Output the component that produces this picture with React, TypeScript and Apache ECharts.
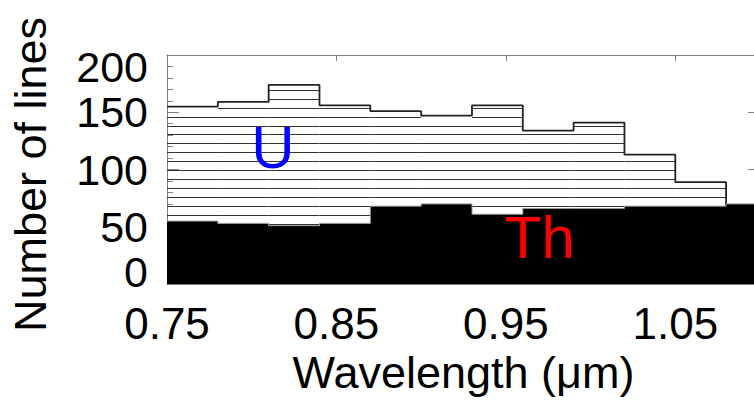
import React, { useEffect, useRef } from "react";
import * as echarts from "echarts";

// Histogram bins (left edges, µm) – bin width 0.03 µm
const binStarts = [0.75, 0.78, 0.81, 0.84, 0.87, 0.9, 0.93, 0.96, 0.99, 1.02, 1.05, 1.08];
const binWidth = 0.03;
// Uranium line counts (11 bins)
const uCounts = [155, 159, 174, 156, 151, 147, 156, 134, 141, 113, 89];
// Thorium line counts (12 bins)
const thCounts = [55, 53, 51, 53, 68, 70, 61, 66, 66, 68, 68, 70];
// Axis ticks
const xTicks = [0.75, 0.85, 0.95, 1.05];
const yTicks = [0, 50, 100, 150, 200];
// Text labels inside the plot
const labelU = { text: "U", x: 0.8125, y: 119, color: "#0000ff" };
const labelTh = { text: "Th", x: 0.97, y: 40.5, color: "#ff0000" };

const HATCH_START = 5;
const HATCH_STEP = 7.85;
const FONT = "'Liberation Sans', Arial, Helvetica, sans-serif";
const AXIS_COLOR = "#808080";

export default function App() {
  const ref = useRef<HTMLDivElement>(null);
  useEffect(() => {
    if (!ref.current) return;
    const chart = echarts.init(ref.current, null, { renderer: "svg" });

    const uBins = uCounts.map((v, i) => [binStarts[i], binStarts[i] + binWidth, v]);
    const uLine: number[][] = uCounts.map((v, i) => [binStarts[i], v]);
    const uEnd = binStarts[uCounts.length - 1] + binWidth;
    uLine.push([uEnd, uCounts[uCounts.length - 1]]);
    uLine.push([uEnd, 0]);
    const thLine: number[][] = thCounts.map((v, i) => [binStarts[i], v]);
    thLine.push([binStarts[thCounts.length - 1] + binWidth, thCounts[thCounts.length - 1]]);

    const xAxisBase = {
      type: "value",
      min: 0.75,
      max: 1.1,
      axisLine: { show: true, onZero: false, lineStyle: { color: AXIS_COLOR, width: 1 } },
      axisTick: { show: true, inside: true, length: 6, customValues: xTicks, lineStyle: { color: AXIS_COLOR } },
      splitLine: { show: false },
    };
    const yAxisBase = {
      type: "value",
      min: 0,
      max: 200,
      interval: 50,
      axisLine: { show: true, onZero: false, lineStyle: { color: AXIS_COLOR, width: 1 } },
      axisTick: { show: true, inside: true, length: 12, lineStyle: { color: AXIS_COLOR } },
      minorTick: { show: true, splitNumber: 5, length: 6, lineStyle: { color: AXIS_COLOR } },
      splitLine: { show: false },
    };

    chart.setOption({
      animation: false,
      grid: { left: 167, right: 0, top: 55, bottom: 113 },
      xAxis: [
        {
          ...xAxisBase,
          position: "bottom",
          axisLabel: {
            customValues: xTicks,
            formatter: (v: number) => v.toFixed(2),
            fontSize: 44,
            lineHeight: 44,
            margin: 17,
            color: "#000",
            fontFamily: FONT,
          },
          name: "Wavelength (μm)",
          nameLocation: "middle",
          nameGap: 59,
          nameTextStyle: { fontSize: 45, color: "#000", fontFamily: FONT },
        },
        { ...xAxisBase, position: "top", axisLabel: { show: false } },
      ],
      yAxis: [
        {
          ...yAxisBase,
          position: "left",
          axisLabel: {
            customValues: yTicks,
            fontSize: 43,
            lineHeight: 24,
            margin: 19,
            color: "#000",
            fontFamily: FONT,
            verticalAlignMinLabel: "bottom",
            verticalAlignMaxLabel: "top",
          },
          name: "Number of lines",
          nameLocation: "middle",
          nameGap: 114,
          nameTextStyle: { fontSize: 45, color: "#000", fontFamily: FONT, padding: [0, 10, 0, 0] },
        },
        { ...yAxisBase, position: "right", axisLabel: { show: false } },
      ],
      series: [
        {
          type: "custom",
          name: "U hatch",
          coordinateSystem: "cartesian2d",
          data: uBins,
          encode: { x: [0, 1], y: 2 },
          z: 1,
          renderItem: (params: any, api: any) => {
            const x0 = api.value(0);
            const x1 = api.value(1);
            const v = api.value(2);
            const left = api.coord([x0, 0])[0];
            const right = api.coord([x1, 0])[0];
            const children: any[] = [];
            for (let h = HATCH_START; h < v - 1; h += HATCH_STEP) {
              const y = Math.round(api.coord([x0, h])[1]) + 0.5;
              children.push({
                type: "line",
                shape: { x1: left, y1: y, x2: right, y2: y },
                style: { stroke: "#333", lineWidth: 1 },
              });
            }
            return { type: "group", children };
          },
        },
        {
          type: "line",
          name: "U",
          data: uLine,
          step: "end",
          showSymbol: false,
          symbol: "none",
          lineStyle: { color: "#222", width: 1.8 },
          z: 2,
        },
        {
          type: "line",
          name: "Th",
          data: thLine,
          step: "end",
          showSymbol: false,
          symbol: "none",
          lineStyle: { color: "#999", width: 1 },
          areaStyle: { color: "#000", opacity: 1 },
          z: 3,
        },
        {
          type: "scatter",
          name: "labels",
          symbol: "circle",
          symbolSize: 2,
          itemStyle: { color: "rgba(0,0,0,0)", opacity: 1 },
          z: 10,
          labelLayout: { hideOverlap: false },
          data: [labelU, labelTh].map((l) => ({
            value: [l.x, l.y],
            name: l.text,
            label: {
              show: true,
              position: "inside",
              formatter: l.text,
              fontSize: 60,
              color: l.color,
              opacity: 1,
              fontFamily: FONT,
            },
          })),
        },
      ],
    });
    return () => chart.dispose();
  }, []);

  return (
    <div
      style={{
        position: "fixed",
        left: 0,
        top: 0,
        width: 754,
        height: 400,
        overflow: "hidden",
        background: "#fff",
      }}
    >
      <div ref={ref} style={{ width: 760, height: 400 }} />
    </div>
  );
}
